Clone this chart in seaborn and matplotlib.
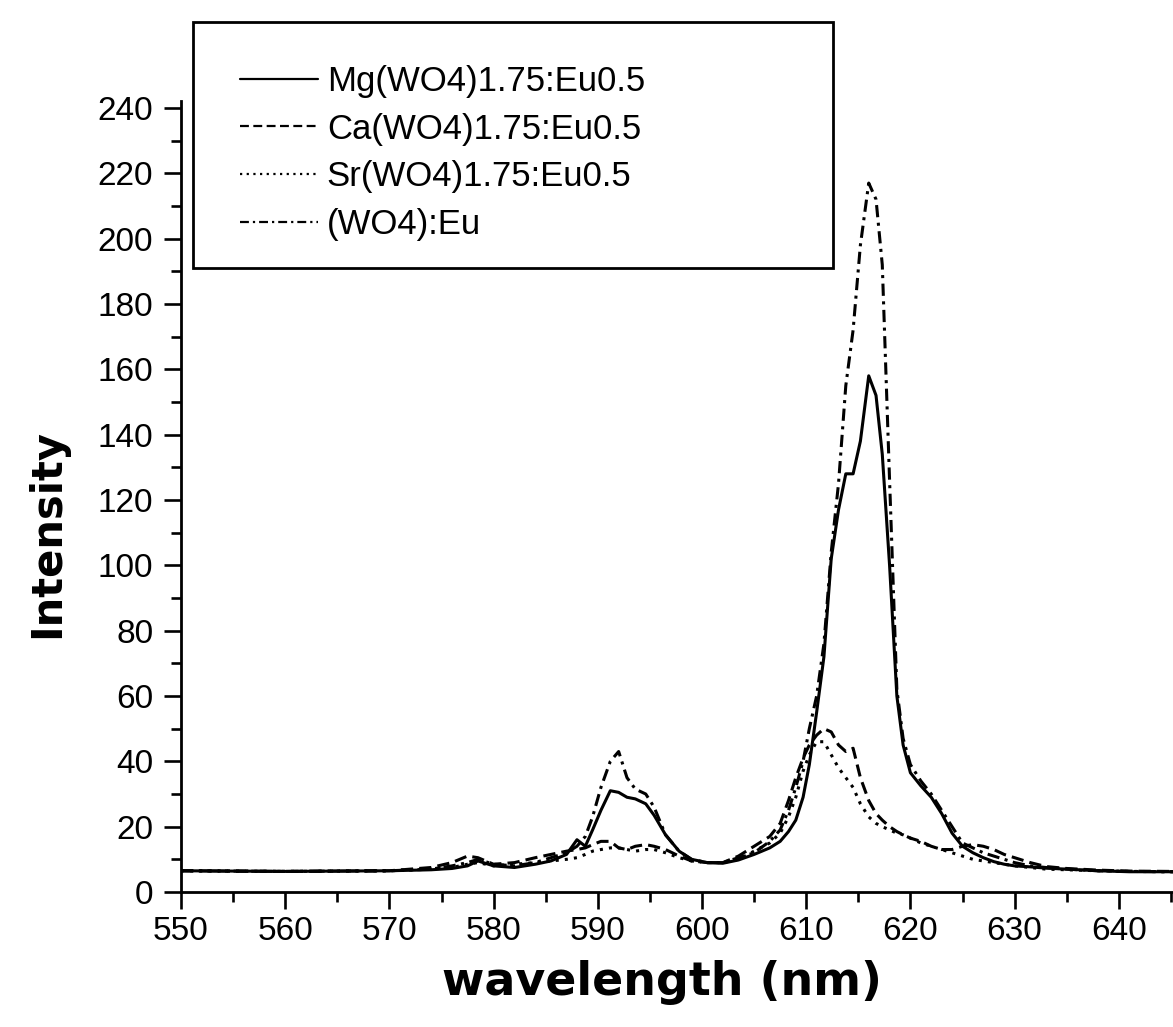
import matplotlib
matplotlib.use("Agg")
import matplotlib.pyplot as plt
import pandas as pd
import seaborn as sns
from matplotlib.ticker import MultipleLocator

# ---- data ----
wavelength = [550, 560, 570, 574, 576, 577.5, 578.5, 580, 582, 584, 585.5, 587, 588,
              588.8, 589.5, 590.3, 591.2, 592, 592.8, 593.6, 594.6, 595.4, 596.5, 597.8,
              599, 600.5, 602, 603.5, 605, 606.5, 607.5, 608.3, 609, 609.7, 610.3, 611,
              611.7, 612.4, 613.1, 613.8, 614.5, 615.2, 616, 616.7, 617.3, 618, 618.7,
              619.3, 620, 621, 622, 623, 624, 625, 626, 627, 628, 629, 630, 631.5, 633,
              635, 638, 641, 645.2]

mg = [6.5, 6.3, 6.5, 6.8, 7.2, 8, 9.5, 8, 7.5, 8.5, 9.5, 11.5, 16,
      14, 19, 25, 31, 30.5, 29, 28.5, 27, 23.5, 17.5, 12.5,
      10, 9, 8.8, 9.8, 11.5, 13.5, 15.5, 18.5, 22, 29, 39, 55,
      72, 102, 117, 128, 128, 138, 158, 152, 134, 100, 60,
      45, 36.5, 32.5, 29, 24, 18, 14, 12, 10.5, 9.3, 8.5, 8, 7.7, 7.3,
      7, 6.5, 6.2, 6.2]

ca = [6.5, 6.3, 6.5, 7.5, 9, 11, 10.5, 8.5, 9, 10.5, 11.5, 12.5, 13,
      13.5, 14.5, 15.5, 15.5, 13.5, 13, 14, 14.5, 14, 13, 11,
      9.5, 9, 9, 11, 14, 17, 21, 28, 35, 41, 45, 48,
      50, 49, 45, 43, 44, 35, 28, 24, 22, 20, 18.5,
      17.5, 16.5, 15.5, 14, 13, 13, 14, 14.5, 14, 13, 11.5, 10.5, 9, 7.8,
      7.2, 6.7, 6.4, 6.3]

sr = [6.5, 6.3, 6.5, 7, 7.5, 8.5, 9, 8, 8.5, 9, 9.5, 10, 10.5,
      11.5, 12.5, 13, 13.5, 13.5, 13, 12.5, 13, 13, 12, 10.5,
      9.5, 9, 9, 10, 12.5, 15, 18, 23, 29, 37, 42, 46,
      46, 42, 38, 35, 32, 27, 23, 21, 20, 19, 18,
      17.5, 16.5, 15, 14, 13, 12, 11, 10, 9.5, 9, 8.5, 8, 7.5, 7,
      6.8, 6.5, 6.3, 6.2]

wo4 = [6.5, 6.3, 6.5, 7, 8, 9, 10, 8.5, 8, 9, 10.5, 12, 14,
       17, 23, 32, 40, 43, 35, 31.5, 30, 26, 17.5, 12.5,
       10, 9, 9, 10.5, 12, 15.5, 19, 25, 32, 40, 50, 60,
       76, 104, 125, 155, 172, 198, 217, 212, 192, 126, 62,
       47, 39, 34, 30, 25, 20, 15, 13.5, 12, 11, 10, 9, 8, 7.5,
       7, 6.5, 6.3, 6.2]

series_names = ["Mg(WO4)1.75:Eu0.5", "Ca(WO4)1.75:Eu0.5",
                "Sr(WO4)1.75:Eu0.5", "(WO4):Eu"]
series_values = [mg, ca, sr, wo4]
x_ticks = list(range(550, 641, 10))
y_ticks = list(range(0, 241, 20))

# ---- style ----
sns.set_theme(style="ticks")
plt.rcParams["font.family"] = ["Liberation Sans", "DejaVu Sans"]
plt.rcParams["text.color"] = "black"
plt.rcParams["axes.labelcolor"] = "black"
plt.rcParams["xtick.color"] = "black"
plt.rcParams["ytick.color"] = "black"

W, H = 1173, 1027
fig = plt.figure(figsize=(W / 100, H / 100), dpi=100)
ax_left = 181 / W
ax_bottom = 1 - 892 / H
ax_height = 242 * 3.267 / H
ax = fig.add_axes([ax_left, ax_bottom, 1 - ax_left, ax_height])

frames = []
for name, vals in zip(series_names, series_values):
    frames.append(pd.DataFrame({"wavelength": wavelength, "Intensity": vals, "sample": name}))
df = pd.concat(frames, ignore_index=True)

dash_styles = ["", (4, 2), (1, 2.0), (4, 1.8, 1, 1.8)]
sns.lineplot(data=df, x="wavelength", y="Intensity", hue="sample", style="sample",
             hue_order=series_names, style_order=series_names,
             palette={n: "black" for n in series_names}, dashes=dash_styles,
             estimator=None, sort=False, lw=2.2, ax=ax)

ax.set_xlim(550, 645.2)
ax.set_ylim(0, 242)
ax.set_xticks(x_ticks)
ax.set_yticks(y_ticks)
ax.xaxis.set_minor_locator(MultipleLocator(5))
ax.yaxis.set_minor_locator(MultipleLocator(10))

for s in ["top", "right"]:
    ax.spines[s].set_visible(False)
for s in ["left", "bottom"]:
    ax.spines[s].set_linewidth(2.0)
    ax.spines[s].set_color("black")

ax.tick_params(which="major", direction="out", length=12, width=1.9, color="black",
               labelsize=24, labelcolor="black")
ax.tick_params(which="minor", direction="out", length=7, width=1.9, color="black")
ax.tick_params(axis="x", which="major", pad=5)
ax.tick_params(axis="y", which="major", pad=8)

ax.set_xlabel("wavelength (nm)", fontsize=33, fontweight="bold",
              family=["DejaVu Sans"], va="top", color="black")
ax.xaxis.set_label_coords((661.5 - 181) / (W - 181), (892 - 960) / (242 * 3.267))
ax.set_ylabel("Intensity", fontsize=30, fontweight="bold", family=["DejaVu Sans"],
              color="black")
ax.yaxis.set_label_coords((68 - 181) / (W - 181), (892 - 533) / (242 * 3.267))

# legend
old = ax.get_legend()
if old is not None:
    old.remove()
handles, labels = ax.get_legend_handles_labels()
hl = [(h, l) for h, l in zip(handles, labels) if l in series_names]
hl.sort(key=lambda t: series_names.index(t[1]))
for h, _ in hl:
    h.set_linewidth(1.6)
    h.set_color("black")
leg = fig.legend([h for h, _ in hl], [l for _, l in hl], loc="upper left",
                 bbox_to_anchor=(240 / W, 1 - 65 / H), bbox_transform=fig.transFigure,
                 frameon=False, fontsize=25, borderpad=0, borderaxespad=0,
                 handlelength=2.25, handletextpad=0.25, labelspacing=0.42,
                 labelcolor="black")

rect = plt.Rectangle((193 / W, 1 - 268 / H), 640 / W, 246 / H, transform=fig.transFigure,
                     fill=False, lw=2.0, edgecolor="black", zorder=10)
fig.patches.append(rect)

fig.savefig("out.png", dpi=100, facecolor="white")
